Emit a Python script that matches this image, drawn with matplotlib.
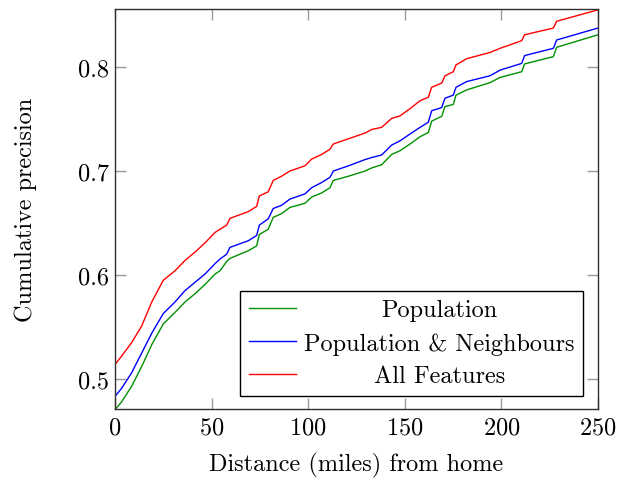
import matplotlib
matplotlib.use("Agg")
import matplotlib.pyplot as plt
from matplotlib.transforms import IdentityTransform

# (distance in miles, cumulative precision)
distance = [0, 3.4, 8.6, 13.8, 19, 25, 31, 36.2, 41.4, 46.6, 51.8, 54.3, 57.8, 59.5,
            69, 73.3, 74.7, 79.3, 81.9, 86.2, 90.5, 98.3, 101.8, 107, 111.3, 113,
            120.8, 129.4, 132.9, 138, 143.2, 147.5, 152.7, 157.9, 162.2, 163.9,
            169.1, 170.8, 175.1, 176.5, 182, 194.1, 199.3, 210.5, 212, 226.9, 228.6, 250]

population = [0.4705, 0.478, 0.493, 0.512, 0.533, 0.553, 0.564, 0.574, 0.582, 0.591,
              0.601, 0.604, 0.613, 0.616, 0.6234, 0.628, 0.639, 0.644, 0.6555, 0.659,
              0.665, 0.669, 0.675, 0.679, 0.684, 0.691, 0.695, 0.700, 0.703, 0.706,
              0.716, 0.7195, 0.726, 0.733, 0.737, 0.748, 0.7526, 0.762, 0.764, 0.773,
              0.778, 0.785, 0.790, 0.7955, 0.803, 0.810, 0.819, 0.831]

pop_neigh = [0.4834, 0.491, 0.506, 0.525, 0.544, 0.563, 0.574, 0.585, 0.593, 0.601,
             0.611, 0.6154, 0.620, 0.6266, 0.633, 0.638, 0.648, 0.654, 0.664, 0.667,
             0.673, 0.678, 0.684, 0.689, 0.694, 0.700, 0.705, 0.711, 0.713, 0.7154,
             0.725, 0.729, 0.7356, 0.742, 0.747, 0.758, 0.761, 0.770, 0.773, 0.7805,
             0.786, 0.7916, 0.797, 0.8035, 0.811, 0.818, 0.826, 0.8375]

all_features = [0.514, 0.522, 0.535, 0.551, 0.574, 0.595, 0.604, 0.614, 0.622, 0.631,
                0.641, 0.644, 0.648, 0.6545, 0.661, 0.666, 0.676, 0.680, 0.691, 0.695,
                0.700, 0.705, 0.7115, 0.716, 0.721, 0.726, 0.731, 0.7365, 0.740, 0.742,
                0.7506, 0.753, 0.760, 0.7676, 0.771, 0.7805, 0.7846, 0.7916, 0.7955, 0.802,
                0.808, 0.814, 0.818, 0.8253, 0.831, 0.8375, 0.844, 0.855]

labels = ["Population", "Population & Neighbours", "All Features"]
colors = ["#009000", "#0000ff", "#ff0000"]

fontSize = 17.5
plt.rcParams["font.family"] = ["cmr10", "DejaVu Serif"]
plt.rcParams["axes.formatter.use_mathtext"] = True

fig = plt.figure(figsize=(6.18, 4.81), dpi=100)
ax = fig.add_axes([115/618, 71/481, 483/618, 400/481])

for series, lab, col in zip([population, pop_neigh, all_features], labels, colors):
    ax.plot(distance, series, color=col, lw=1.0, label=lab)

ax.set_xlim(0, 250)
ax.set_ylim(0.4712, 0.8558)
ax.set_xticks([0, 50, 100, 150, 200, 250])
ax.set_yticks([0.5, 0.6, 0.7, 0.8])
ax.set_yticklabels(["0.5", "0.6", "0.7", "0.8"])
ax.tick_params(direction="in", length=8, width=1.0, color="#999999",
               top=True, right=True, labelsize=fontSize)
ax.tick_params(axis="x", pad=5.5)
ax.tick_params(axis="y", pad=4)
for sp in ax.spines.values():
    sp.set_color("#303030")
    sp.set_linewidth(1.0)

ax.set_xlabel("Distance (miles) from home", fontsize=fontSize, labelpad=9.5)
ax.set_ylabel("Cumulative precision", fontsize=fontSize, labelpad=30)

leg = ax.legend(loc="lower right", bbox_to_anchor=(0.969, 0.0325), borderaxespad=0,
                fontsize=fontSize, fancybox=False, framealpha=1, edgecolor="black",
                handlelength=1.95, handletextpad=0.33, borderpad=0.35, labelspacing=0.44)
leg.get_frame().set_linewidth(1.0)

# pgfplots centres the legend text: redraw labels centred on the text column
fig.canvas.draw()
r = fig.canvas.get_renderer()
texts = leg.get_texts()
ext = [t.get_window_extent(r) for t in texts]
cx = (min(e.x0 for e in ext) + max(e.x1 for e in ext)) / 2
for t in texts:
    bx, by = t.get_transform().transform(t.get_position())
    t.set_alpha(0)
    fig.text(cx, by, t.get_text(), transform=IdentityTransform(), ha="center",
             va=t.get_va(), fontsize=fontSize, zorder=10)

fig.savefig("out.png", dpi=100)
